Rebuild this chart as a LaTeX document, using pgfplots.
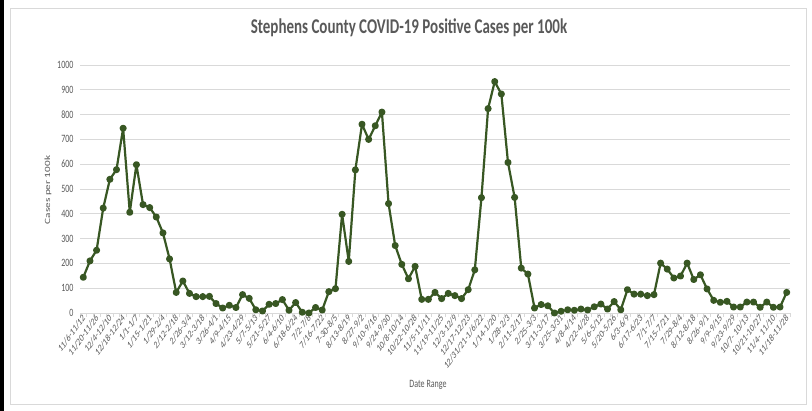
\documentclass[border=0pt]{standalone}
\usepackage{pgfplots}
\pgfplotsset{compat=1.18}
\usepackage{fontspec}
\setmainfont{Carlito}
\definecolor{linegreen}{HTML}{385723}
\definecolor{txtgray}{HTML}{595959}
\definecolor{gridgray}{HTML}{D9D9D9}
\pgfplotstableread{
i v
0 144
1 210
2 253
3 423
4 539
5 578
6 745
7 406
8 598
9 437
10 425
11 387
12 323
13 218
14 83
15 129
16 79
17 66
18 66
19 67
20 38
21 20
22 31
23 22
24 74
25 59
26 13
27 8
28 35
29 38
30 54
31 11
32 42
33 3
34 0
35 22
36 12
37 86
38 98
39 398
40 208
41 577
42 761
43 700
44 755
45 810
46 441
47 272
48 196
49 138
50 188
51 55
52 55
53 83
54 58
55 79
56 70
57 58
58 94
59 174
60 465
61 824
62 933
63 883
64 607
65 466
66 181
67 157
68 20
69 34
70 29
71 0
72 7
73 13
74 11
75 16
76 12
77 25
78 36
79 16
80 46
81 13
82 94
83 76
84 76
85 70
86 74
87 201
88 177
89 141
90 149
91 201
92 135
93 154
94 97
95 51
96 43
97 47
98 24
99 24
100 44
101 44
102 23
103 44
104 23
105 24
106 83
}\cases
\begin{document}
\begin{tikzpicture}[x=1pt,y=1pt]
\useasboundingbox (0,0) rectangle (812,411);
\fill[white] (0,0) rectangle (812,411);
\fill[black] (0,0) rectangle (4,411);
\draw[gridgray,line width=0.8pt] (10,7) rectangle (806,403);
\node[font=\bfseries\fontsize{15}{17}\selectfont, text=txtgray, yscale=1.4] at (409,383) {Stephens County COVID-19 Positive Cases per 100k};
\node[font=\fontsize{8}{9}\selectfont, text=txtgray, yscale=1.4, rotate=90] at (48,221) {Cases per 100k};
\node[font=\fontsize{8}{9}\selectfont, text=txtgray, yscale=1.4] at (428,26) {Date Range};
\begin{axis}[
  at={(80pt,98pt)}, anchor=south west,
  width=710pt, height=248pt, scale only axis,
  xmin=-0.5, xmax=106.5, ymin=0, ymax=1000,
  clip=false,
  axis line style={draw=none},
  ymajorgrids, grid style={gridgray, line width=0.8pt},
  ytick={0,100,...,1000},
  /pgf/number format/1000 sep={},
  /pgf/number format/assume math mode=true,
  major tick length=0pt,
  xtick pos=bottom, ytick pos=left,
  tick align=outside,
  xtick={0,2,...,106},
  minor xtick={-0.5,0.5,...,106.5},
  minor tick length=4pt,
  minor tick style={gridgray, line width=0.8pt},
  yticklabel style={font=\fontsize{8}{9}\selectfont, text=txtgray, yscale=1.4, xshift=-3pt},
  xticklabel style={font=\fontsize{7.5}{9}\selectfont, text=txtgray, yscale=1.4, rotate=45, anchor=east, inner sep=1pt, yshift=-2pt},
  xticklabels={11/6-11/12, 11/20-11/26, 12/4-12/10, 12/18-12/24, 1/1-1/7, 1/15-1/21, 1/29-2/4, 2/12-2/18, 2/26-3/4, 3/12-3/18, 3/26-4/1, 4/9-4/15, 4/23-4/29, 5/7-5/13, 5/21-5/27, 6/4-6/10, 6/18-6/24, 7/2-7/8, 7/16-7/22, 7-30-8/5, 8/13-8/19, 8/27-9/2, 9/10-9/16, 9/24-9/30, 10/8-10/14, 10/22-10/28, 11/5-11/11, 11/19-11/25, 12/3-12/9, 12/17-12/23, 12/31/21-1/6/22, 1/14-1/20, 1/28-2/3, 2/11-2/17, 2/25-3/3, 3/11-3/17, 3/25-3/31, 4/8-4/14, 4/22-4/28, 5/6-5/12, 5/20-5/26, 6/3-6/9, 6/17-6/23, 7/1-7/7, 7/15-7/21, 7/29-8/4, 8/12-8/18, 8/26-9/1, 9/9-9/15, 9/23-9/29, 10/7- 10/13, 10/21-10/27, 11/4- 11/10, 11/18-11/28},
]
\addplot[linegreen, line width=2.2pt, line join=round, mark=*, mark size=2.4pt, mark options={solid, fill=linegreen}] table[x=i, y=v] {\cases};
\end{axis}
\end{tikzpicture}
\end{document}
